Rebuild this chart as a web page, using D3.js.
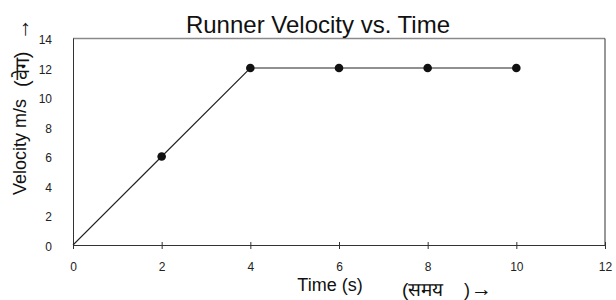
<!DOCTYPE html>
<html><head><meta charset="utf-8">
<script src="https://cdn.jsdelivr.net/npm/d3@7"></script>
<style>body{margin:0;background:#fff}svg{display:block;font-family:"Liberation Sans",Arial,sans-serif}</style>
</head><body><svg id="c" width="616" height="300"></svg>
<script>
const times = [0, 2, 4, 6, 8, 10];
const velocities = [0, 6, 12, 12, 12, 12];
const markerTimes = [2, 4, 6, 8, 10];
const xTicks = [0, 2, 4, 6, 8, 10, 12];
const yTicks = [0, 2, 4, 6, 8, 10, 12, 14];

const svg = d3.select("#c");
const x = d3.scaleLinear().domain([0, 12]).range([73, 605]);
const y = d3.scaleLinear().domain([0, 14]).range([245, 38.5]);

const data = times.map((t, i) => ({t, v: velocities[i]}));

// top & right border
svg.append("line").attr("x1", x(0)).attr("x2", x(12)).attr("y1", y(14)).attr("y2", y(14))
  .attr("stroke", "#8a8a8a").attr("stroke-width", 1.3);
svg.append("line").attr("x1", x(12)).attr("x2", x(12)).attr("y1", y(14)).attr("y2", y(0))
  .attr("stroke", "#333").attr("stroke-width", 1);

const xa = svg.append("g").attr("transform", `translate(0,${y(0)})`)
  .call(d3.axisBottom(x).tickValues(xTicks).tickSize(4).tickSizeOuter(0).tickPadding(13));
const ya = svg.append("g").attr("transform", `translate(${x(0)},0)`)
  .call(d3.axisLeft(y).tickValues(yTicks).tickSize(5).tickSizeOuter(0).tickPadding(16));
[xa, ya].forEach(g => {
  g.select(".domain").attr("stroke", "#333");
  g.selectAll(".tick line").attr("stroke", "#333");
  g.selectAll(".tick text").attr("font-size", 12).attr("fill", "#222")
    .attr("font-family", "'Liberation Sans',Arial,sans-serif");
});
xa.selectAll(".tick line").attr("y1", -3);
ya.selectAll(".tick line").attr("x2", 1);
ya.selectAll(".tick text").attr("dy", "0.45em");

const line = d3.line().x(d => x(d.t)).y(d => y(d.v));
svg.append("path").datum(data).attr("d", line).attr("fill", "none")
  .attr("stroke", "#222").attr("stroke-width", 1.1);

svg.selectAll("circle.m").data(data.filter(d => markerTimes.includes(d.t))).enter()
  .append("circle").attr("class", "m").attr("cx", d => x(d.t)).attr("cy", d => y(d.v))
  .attr("r", 4.3).attr("fill", "#111");

svg.append("text").attr("x", 318).attr("y", 33).attr("text-anchor", "middle")
  .attr("font-size", 24).attr("fill", "#111").text("Runner Velocity vs. Time");

svg.append("text").attr("x", 330).attr("y", 291).attr("text-anchor", "middle")
  .attr("font-size", 18).attr("fill", "#111").text("Time (s)");
svg.append("text").attr("x", 402).attr("y", 296).attr("text-anchor", "start")
  .attr("font-size", 19).attr("fill", "#111").text("(समय");
svg.append("text").attr("x", 464).attr("y", 296).attr("text-anchor", "start")
  .attr("font-size", 18).attr("fill", "#111").text(")");
svg.append("text").attr("x", 471).attr("y", 296).attr("text-anchor", "start")
  .attr("font-size", 21).attr("fill", "#111").text("→");

svg.append("text").attr("transform", "translate(26,147) rotate(-90)").attr("text-anchor", "middle")
  .attr("font-size", 18).attr("fill", "#111").text("Velocity m/s");
svg.append("text").attr("transform", "translate(29,87) rotate(-90)").attr("text-anchor", "start")
  .attr("font-size", 20).attr("fill", "#111").text("(वेग)");
svg.append("text").attr("transform", "translate(29,40) rotate(-90)").attr("text-anchor", "start")
  .attr("font-size", 22).attr("fill", "#111").text("→");
</script></body></html>
